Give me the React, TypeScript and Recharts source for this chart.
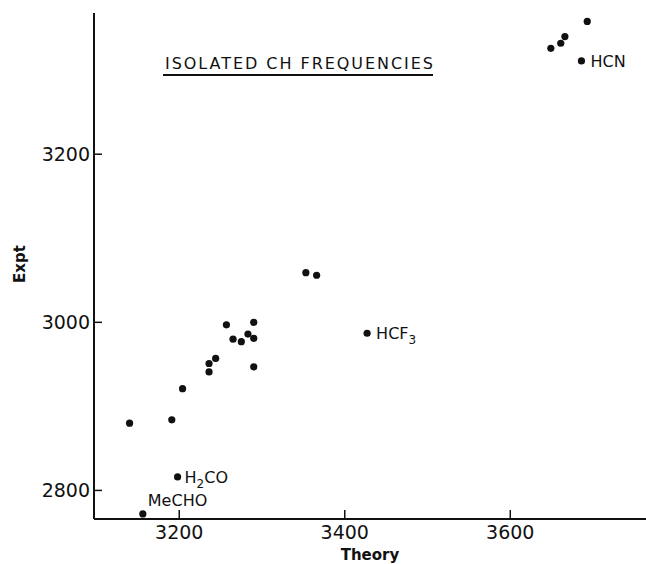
import { ScatterChart, Scatter, XAxis, YAxis, Customized } from 'recharts';

// calculated (theory) vs observed (expt) CH stretching frequencies, cm-1
const theory = [
  3693, 3666, 3661, 3649, 3686,
  3353, 3366, 3427,
  3257, 3290, 3265, 3275, 3283, 3290,
  3244, 3236, 3236, 3290,
  3204, 3191, 3140, 3198, 3156,
];
const expt = [
  3358, 3340, 3332, 3326, 3311,
  3059, 3056, 2987,
  2997, 3000, 2980, 2977, 2986, 2981,
  2957, 2951, 2941, 2947,
  2921, 2884, 2880, 2816, 2772,
];
const names = [
  '', '', '', '', 'HCN',
  '', '', 'HCF3',
  '', '', '', '', '', '',
  '', '', '', '',
  '', '', '', 'H2CO', 'MeCHO',
];

const xTicks = [3200, 3400, 3600];
const yTicks = [2800, 3000, 3200];
const title = 'ISOLATED CH FREQUENCIES';

const points = theory.map((t, i) => ({ x: t, y: expt[i], name: names[i] }));

// where each compound's label sits relative to its dot
const labelOffset: Record<string, [number, number]> = {
  HCN: [9, 6],
  HCF3: [9, 6],
  H2CO: [7, 6],
  MeCHO: [5, -8],
};

const INK = '#111';
const FONT = '"DejaVu Sans", sans-serif';

function Chem({ text }: { text: string }) {
  // digits are drawn as subscripts
  const parts = text.match(/\d+|\D+/g) || [];
  return (
    <>
      {parts.map((p, i) =>
        /\d/.test(p) ? (
          <tspan key={i} fontSize={12} dy={5}>{p}</tspan>
        ) : (
          <tspan key={i} dy={i > 0 && /\d/.test(parts[i - 1]) ? -5 : 0}>{p}</tspan>
        )
      )}
    </>
  );
}

function Dot(props: any) {
  const { cx, cy, payload } = props;
  const off = payload.name ? labelOffset[payload.name] : null;
  return (
    <g>
      <circle cx={cx} cy={cy} r={3.6} fill={INK} />
      {off && (
        <text x={cx + off[0]} y={cy + off[1]} fontSize={16} fontFamily={FONT} fill={INK}>
          <Chem text={payload.name} />
        </text>
      )}
    </g>
  );
}

function XTick(props: any) {
  const { x, y, payload } = props;
  return (
    <g>
      <line x1={x} x2={x} y1={y} y2={y - 9} stroke={INK} strokeWidth={1.5} />
      <text x={x} y={y + 20} textAnchor="middle" fontSize={19} fontFamily={FONT} fill={INK}>
        {payload.value}
      </text>
    </g>
  );
}

function YTick(props: any) {
  const { x, y, payload } = props;
  return (
    <g>
      <line x1={x} x2={x + 8} y1={y} y2={y} stroke={INK} strokeWidth={1.5} />
      <text x={x - 4} y={y + 7} textAnchor="end" fontSize={19} fontFamily={FONT} fill={INK}>
        {payload.value}
      </text>
    </g>
  );
}

function Title() {
  return (
    <g>
      <text x={165} y={69} fontSize={16} fontFamily={FONT} fill={INK} textLength={268} lengthAdjust="spacing">
        {title}
      </text>
      <line x1={163} x2={433} y1={75} y2={75} stroke={INK} strokeWidth={2} />
    </g>
  );
}

export default function App() {
  return (
    <div style={{ position: 'absolute', left: 0, top: 0, background: '#fff' }}>
      <ScatterChart width={646} height={564} margin={{ top: 13, right: 0, bottom: 0, left: 0 }}>
        <XAxis
          type="number"
          dataKey="x"
          domain={[3097, 3764]}
          ticks={xTicks}
          interval={0}
          allowDataOverflow
          height={45}
          tickSize={0}
          tickMargin={0}
          tickLine={false}
          axisLine={{ stroke: INK, strokeWidth: 2 }}
          tick={<XTick />}
          label={{
            value: 'Theory',
            position: 'insideBottom',
            offset: 4,
            fontSize: 15,
            fontWeight: 'bold',
            fontFamily: FONT,
            fill: INK,
          }}
        />
        <YAxis
          type="number"
          dataKey="y"
          domain={[2766, 3368]}
          ticks={yTicks}
          interval={0}
          allowDataOverflow
          width={94}
          tickSize={0}
          tickMargin={0}
          tickLine={false}
          axisLine={{ stroke: INK, strokeWidth: 2 }}
          tick={<YTick />}
          label={{
            content: (p: any) => {
              const vb = p.viewBox;
              const cx = vb.x + 20;
              const cy = vb.y + vb.height / 2 - 2;
              return (
                <text
                  x={cx}
                  y={cy}
                  transform={`rotate(-90 ${cx} ${cy})`}
                  textAnchor="middle"
                  dominantBaseline="central"
                  fontSize={15}
                  fontWeight="bold"
                  fontFamily={FONT}
                  fill={INK}
                >
                  Expt
                </text>
              );
            },
          }}
        />
        <Scatter data={points} shape={<Dot />} isAnimationActive={false} />
        <Customized component={<Title />} />
      </ScatterChart>
    </div>
  );
}
